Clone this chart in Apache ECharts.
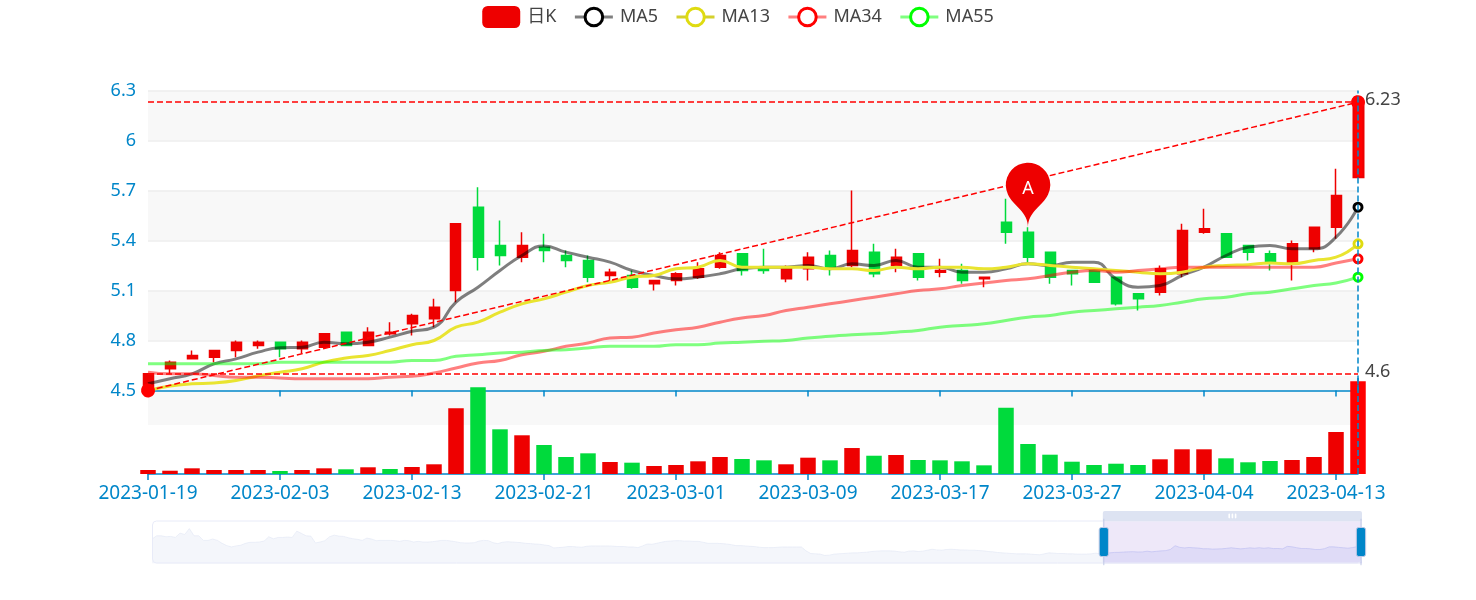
<!DOCTYPE html>
<html>
<head>
<meta charset="utf-8">
<title>日K</title>
<style>
html,body{margin:0;padding:0;background:#fff}
#main{width:1476px;height:600px}
</style>
<script src="https://cdn.jsdelivr.net/npm/echarts@6/dist/echarts.min.js"></script>
</head>
<body>
<div id="main"></div>
<script>
// 可见窗口的交易日
const dates=['2023-01-19','2023-01-20','2023-01-30','2023-01-31','2023-02-01','2023-02-02','2023-02-03','2023-02-06','2023-02-07','2023-02-08','2023-02-09','2023-02-10','2023-02-13','2023-02-14','2023-02-15','2023-02-16','2023-02-17','2023-02-20','2023-02-21','2023-02-22','2023-02-23','2023-02-24','2023-02-27','2023-02-28','2023-03-01','2023-03-02','2023-03-03','2023-03-06','2023-03-07','2023-03-08','2023-03-09','2023-03-10','2023-03-13','2023-03-14','2023-03-15','2023-03-16','2023-03-17','2023-03-20','2023-03-21','2023-03-22','2023-03-23','2023-03-24','2023-03-27','2023-03-28','2023-03-29','2023-03-30','2023-03-31','2023-04-03','2023-04-04','2023-04-06','2023-04-07','2023-04-10','2023-04-11','2023-04-12','2023-04-13','2023-04-14'];
const opens=[4.50,4.63,4.69,4.70,4.74,4.77,4.79,4.75,4.76,4.85,4.77,4.84,4.90,4.93,5.10,5.60,5.37,5.30,5.36,5.31,5.28,5.19,5.19,5.14,5.16,5.18,5.24,5.32,5.24,5.17,5.23,5.31,5.25,5.33,5.25,5.32,5.21,5.22,5.17,5.51,5.45,5.33,5.22,5.22,5.18,5.08,5.09,5.20,5.45,5.44,5.37,5.32,5.26,5.35,5.48,5.78];
const closes=[4.60,4.67,4.71,4.74,4.79,4.79,4.75,4.79,4.84,4.77,4.85,4.85,4.95,5.00,5.50,5.30,5.31,5.37,5.34,5.28,5.18,5.21,5.12,5.16,5.20,5.23,5.31,5.22,5.22,5.24,5.30,5.23,5.34,5.20,5.30,5.18,5.22,5.16,5.18,5.45,5.30,5.18,5.20,5.15,5.02,5.05,5.23,5.46,5.47,5.30,5.33,5.27,5.38,5.48,5.67,6.23];
const lows=[4.50,4.60,4.69,4.67,4.70,4.75,4.70,4.72,4.76,4.77,4.77,4.83,4.83,4.88,5.03,5.22,5.25,5.27,5.27,5.24,5.15,5.15,5.11,5.10,5.13,5.17,5.23,5.19,5.20,5.15,5.16,5.19,5.24,5.18,5.21,5.16,5.18,5.14,5.12,5.38,5.27,5.14,5.13,5.15,5.01,4.98,5.07,5.18,5.44,5.30,5.28,5.22,5.16,5.33,5.41,5.78];
const highs=[4.60,4.68,4.74,4.74,4.80,4.80,4.79,4.80,4.84,4.85,4.88,4.91,4.96,5.05,5.50,5.72,5.52,5.45,5.44,5.34,5.31,5.23,5.22,5.16,5.21,5.27,5.33,5.32,5.35,5.25,5.33,5.34,5.70,5.38,5.35,5.32,5.29,5.26,5.18,5.65,5.48,5.33,5.22,5.23,5.18,5.08,5.25,5.50,5.59,5.44,5.37,5.34,5.40,5.48,5.83,6.23];
const ma5=[4.54,4.57,4.60,4.66,4.69,4.73,4.757,4.76,4.79,4.78,4.79,4.82,4.855,4.88,5.03,5.12,5.22,5.31,5.367,5.33,5.30,5.27,5.22,5.19,5.17,5.18,5.20,5.23,5.24,5.24,5.25,5.23,5.26,5.25,5.28,5.24,5.24,5.21,5.21,5.23,5.26,5.25,5.27,5.27,5.17,5.12,5.13,5.19,5.24,5.31,5.36,5.37,5.35,5.35,5.42,5.60];
const ma13=[4.50,4.527,4.54,4.545,4.56,4.587,4.61,4.63,4.67,4.695,4.71,4.74,4.775,4.80,4.88,4.91,4.97,5.02,5.05,5.09,5.13,5.15,5.18,5.19,5.23,5.24,5.28,5.24,5.24,5.24,5.24,5.23,5.23,5.22,5.24,5.23,5.24,5.24,5.23,5.24,5.26,5.25,5.24,5.23,5.22,5.21,5.20,5.21,5.24,5.25,5.255,5.265,5.26,5.28,5.30,5.38];
const ma34=[4.61,4.60,4.60,4.59,4.58,4.58,4.575,4.57,4.57,4.57,4.57,4.58,4.585,4.605,4.635,4.665,4.68,4.715,4.735,4.765,4.785,4.815,4.82,4.845,4.865,4.88,4.91,4.935,4.95,4.98,5.00,5.02,5.04,5.06,5.08,5.10,5.11,5.13,5.145,5.16,5.17,5.19,5.21,5.22,5.21,5.22,5.23,5.24,5.24,5.24,5.24,5.24,5.24,5.24,5.265,5.29];
const ma55=[4.66,4.66,4.66,4.66,4.66,4.66,4.67,4.67,4.67,4.67,4.67,4.67,4.68,4.68,4.705,4.715,4.725,4.73,4.74,4.745,4.755,4.765,4.765,4.765,4.775,4.775,4.785,4.79,4.795,4.80,4.815,4.825,4.835,4.84,4.85,4.86,4.88,4.89,4.90,4.92,4.94,4.95,4.97,4.98,4.99,5.00,5.01,5.03,5.05,5.06,5.08,5.09,5.11,5.13,5.145,5.18];
// 成交量(千手)
const volumes=[8.2,6.7,11.6,8.2,8.2,8.2,6.1,8.2,11.6,9.6,13.7,10.2,14.3,19.8,134,176.9,91.2,79,59.2,34.7,42.2,24.5,23.1,16.3,18.4,25.9,34.7,30.6,27.9,19.8,33.3,27.9,53,37.3,38.8,28.6,27.9,25.9,17.7,135.3,61.2,39.4,25.1,18.4,21,18.4,30,50.4,50.4,32,23.9,26.5,28.6,34.7,85.7,189.1];
const volumeUp=[1,1,1,1,1,1,0,1,1,0,1,0,1,1,1,0,0,1,0,0,0,1,0,1,1,1,1,0,0,1,1,0,1,0,1,0,0,0,0,0,0,0,0,0,0,0,1,1,1,0,0,0,1,1,1,1];
// 窗口之前的开盘价,只用于缩略轴
const earlierOpens=[6.50,6.94,6.94,6.81,6.86,6.72,7.30,7.12,7.92,6.94,6.94,6.32,6.32,6.50,6.32,5.92,5.61,5.43,5.57,5.66,5.92,6.06,6.06,6.10,6.23,6.81,6.54,6.72,6.72,6.77,6.72,7.57,7.26,6.94,6.90,5.97,6.10,6.28,6.81,7.03,6.90,6.86,6.68,6.54,6.46,6.32,6.63,6.50,6.28,6.32,6.32,6.32,6.28,6.19,6.32,6.28,6.10,6.19,6.10,6.10,6.14,6.23,6.32,6.32,6.23,6.14,6.01,5.97,5.97,6.01,6.23,6.32,6.28,6.01,5.88,6.06,6.14,6.10,6.06,6.01,5.92,5.88,5.83,5.79,5.70,5.61,5.30,5.34,5.39,5.48,5.48,5.43,5.39,5.52,5.57,5.57,5.57,5.57,5.57,5.52,5.48,5.48,5.43,5.43,5.34,5.57,5.83,5.79,5.92,6.06,6.19,6.23,6.28,6.28,6.23,6.23,6.19,6.19,6.06,5.92,5.92,5.92,5.88,5.83,5.74,5.61,5.61,5.57,5.52,5.48,5.39,5.34,5.34,5.34,5.39,5.43,5.43,5.43,5.43,5.43,4.90,4.54,4.50,4.46,4.28,4.32,4.46,4.50,4.54,4.59,4.63,4.63,4.68,4.72,4.81,4.86,4.90,4.90,4.90,4.86,4.77,4.72,4.86,4.90,4.81,4.86,4.99,5.12,5.03,4.99,5.08,5.12,5.08,5.03,5.03,4.99,4.99,4.94,4.90,4.81,4.77,4.68,4.63,4.59,4.54,4.50,4.50,4.50,4.46,4.41,4.37,4.50,4.63,4.59,4.54,4.54,4.50,4.50,4.46,4.46,4.46,4.50,4.59,4.50];
const yTicks={min:4.5,max:6.3,interval:0.3};
const priceHigh=6.23, priceLow=4.6, trendStart=4.5;

const blue='#0086c9', red='#ee0000', green='#00da3c';
const font='"Noto Sans","Noto Sans CJK SC",sans-serif';
const earlierDates=earlierOpens.map((v,i)=>'h'+i);
const blanks=earlierOpens.map(()=>'-');
const allDates=earlierDates.concat(dates);

const candleData=earlierOpens.map(v=>[v,v,v,v]).concat(dates.map((d,i)=>[opens[i],closes[i],lows[i],highs[i]]));
const volumeData=blanks.concat(volumes.map((v,i)=>({value:v,itemStyle:{color:volumeUp[i]?red:green}})));

function maSeries(name,values,ringColor,lineColor,opacity){
    return {
        name:name,
        type:'line',
        data:blanks.concat(values),
        smooth:true,
        showSymbol:false,
        symbol:'circle',
        symbolSize:8,
        itemStyle:{color:'#fff',borderColor:ringColor,borderWidth:3},
        emphasis:{scale:1,itemStyle:{color:'#fff',borderColor:ringColor,borderWidth:3}},
        lineStyle:{color:lineColor,width:3,opacity:opacity}
    };
}

function endLabel(text){
    return {show:true,position:'end',distance:7,formatter:text,fontSize:18,color:'#444',offset:[0,-2]};
}

var myChart=echarts.init(document.getElementById('main'));
myChart.setOption({
    animation:false,
    textStyle:{fontFamily:font},
    tooltip:{trigger:'axis',showContent:false,axisPointer:{type:'line',lineStyle:{color:blue,type:'dashed',width:1.5},label:{show:false}}},
    axisPointer:{link:[{xAxisIndex:'all'}]},
    legend:{
        top:1,left:'center',itemWidth:38,itemHeight:22,itemGap:17,
        textStyle:{fontSize:18,color:'#444',padding:[0,0,0,2]},
        itemStyle:{borderWidth:3},
        lineStyle:{width:3},
        data:[{name:'日K',itemStyle:{borderWidth:0}},'MA5','MA13','MA34','MA55']
    },
    grid:[
        {left:148,right:118,top:90.5,height:300},
        {left:148,right:118,top:376,height:98}
    ],
    xAxis:[
        {type:'category',data:allDates,boundaryGap:false,gridIndex:0,
            axisLine:{lineStyle:{color:blue,width:1.5}},axisTick:{length:6,interval:5,lineStyle:{color:blue,width:1.5}},axisLabel:{show:false}},
        {type:'category',data:allDates,boundaryGap:false,gridIndex:1,
            axisLine:{lineStyle:{color:blue,width:1.5}},axisTick:{length:6,interval:5,lineStyle:{color:blue,width:1.5}},
            axisLabel:{interval:5,fontSize:19,color:blue,margin:10,hideOverlap:false}}
    ],
    yAxis:[
        {type:'value',gridIndex:0,min:yTicks.min,max:yTicks.max,interval:yTicks.interval,
            axisLine:{show:false},axisTick:{show:false},
            axisLabel:{fontSize:18,color:blue,margin:12},
            splitLine:{lineStyle:{color:'#eee',width:1.5}},
            splitArea:{show:true,areaStyle:{color:['rgba(255,255,255,0)','#f8f8f8']}}},
        {type:'value',gridIndex:1,min:0,max:200,interval:100,
            axisLine:{show:false},axisTick:{show:false},axisLabel:{show:false},
            splitLine:{show:false},
            splitArea:{show:true,areaStyle:{color:['rgba(255,255,255,0)','#f8f8f8']}}}
    ],
    dataZoom:[{
        type:'slider',xAxisIndex:[0,1],start:78.58,end:100,
        left:148,right:118,top:511,height:43,
        showDetail:false,
        borderColor:'#e8ebf8',
        borderRadius:4,
        fillerColor:'rgba(200,180,235,0.3)',
        handleSize:'108%',
        handleStyle:{color:blue},
        moveHandleSize:10,
        moveHandleStyle:{color:'#dde3f2',opacity:1},
        emphasis:{moveHandleStyle:{color:'#dde3f2',opacity:1}},
        dataBackground:{lineStyle:{color:'#dde3f3'},areaStyle:{color:'#d2dbee',opacity:0.25}},
        selectedDataBackground:{lineStyle:{color:'#a8b4f0'},areaStyle:{color:'#8fa0f0',opacity:0.2}}
    }],
    series:[
        {
            name:'日K',
            type:'candlestick',
            data:candleData,
            barWidth:10.5,
            clip:false,
            itemStyle:{color:red,color0:green,borderColor:red,borderColor0:green,borderWidth:1.5},
            markPoint:{
                symbol:'pin',symbolSize:74,
                itemStyle:{color:red},
                label:{color:'#fff',fontSize:18,formatter:'A'},
                data:[{name:'A',coord:[dates[40],5.48]}]
            },
            markLine:{
                silent:true,
                symbol:['none','none'],
                lineStyle:{color:'#f00',type:'dashed',width:1.5},
                label:{show:false},
                data:[
                    [{coord:[dates[0],priceHigh]},{coord:[dates[55],priceHigh],label:endLabel(String(priceHigh))}],
                    [{coord:[dates[0],priceLow]},{coord:[dates[55],priceLow],label:endLabel(String(priceLow))}],
                    [{coord:[dates[0],trendStart],symbol:'circle',symbolSize:14},{coord:[dates[55],priceHigh],symbol:'circle',symbolSize:14}]
                ]
            }
        },
        maSeries('MA5',ma5,'#000','#000',0.5),
        maSeries('MA13',ma13,'#dfdb10','#d4d02c',1),
        maSeries('MA34',ma34,'#f00','#f00',0.5),
        maSeries('MA55',ma55,'#0f0','#0f0',0.5),
        {
            name:'成交量',
            type:'bar',
            xAxisIndex:1,yAxisIndex:1,
            data:volumeData,
            barWidth:15.5,
            clip:false
        }
    ]
});
myChart.dispatchAction({type:'showTip',seriesIndex:0,dataIndex:allDates.length-1});
</script>
</body>
</html>
